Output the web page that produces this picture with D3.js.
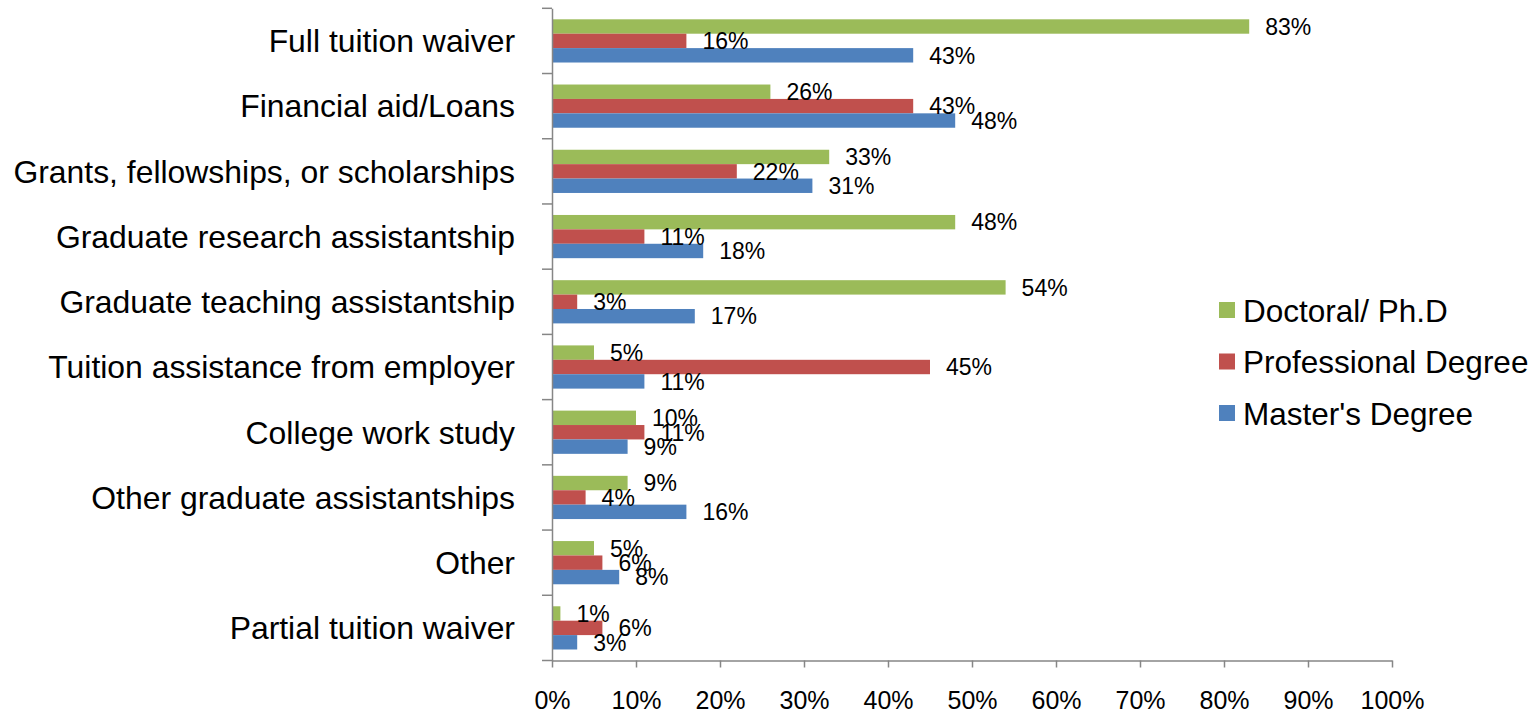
<!DOCTYPE html>
<html>
<head>
<meta charset="utf-8">
<script src="https://cdn.jsdelivr.net/npm/d3@7"></script>
<style>
  html, body { margin: 0; padding: 0; background: #ffffff; }
  svg { display: block; font-family: Arial, "Liberation Sans", sans-serif; }
</style>
</head>
<body>
<svg id="chart" width="1537" height="713"></svg>
<script>
// Funding sources, listed top to bottom
const categories = [
  "Full tuition waiver",
  "Financial aid/Loans",
  "Grants, fellowships, or scholarships",
  "Graduate research assistantship",
  "Graduate teaching assistantship",
  "Tuition assistance from employer",
  "College work study",
  "Other graduate assistantships",
  "Other",
  "Partial tuition waiver"
];

const seriesNames = ["Doctoral/ Ph.D", "Professional Degree", "Master's Degree"];

// Percent of students in each degree type using the source
const doctoral     = [83, 26, 33, 48, 54, 5, 10, 9, 5, 1];
const professional = [16, 43, 22, 11, 3, 45, 11, 4, 6, 6];
const masters      = [43, 48, 31, 18, 17, 11, 9, 16, 8, 3];

const seriesColors = ["#9BBB59", "#C0504D", "#4F81BD"];

const xTicks = [0, 10, 20, 30, 40, 50, 60, 70, 80, 90, 100];

const seriesValues = [doctoral, professional, masters];

const svg = d3.select("#chart");

const plotLeft = 552, plotRight = 1392, plotTop = 8.3, plotBottom = 660.5;
const axisColor = "#868686";

const x = d3.scaleLinear().domain([0, 100]).range([plotLeft, plotRight]);
const y = d3.scaleBand().domain(categories).range([plotTop, plotBottom]).padding(0);
const ySub = d3.scaleBand().domain(seriesNames)
  .range([0, y.bandwidth()]).paddingInner(0).paddingOuter(0.764);

// Bars and value labels
const groups = svg.append("g").selectAll("g")
  .data(categories)
  .join("g")
  .attr("transform", d => `translate(0,${y(d)})`);

seriesNames.forEach((name, si) => {
  const vals = seriesValues[si];
  groups.append("rect")
    .attr("x", x(0))
    .attr("y", ySub(name))
    .attr("width", (d, i) => x(vals[i]) - x(0))
    .attr("height", ySub.bandwidth())
    .attr("fill", seriesColors[si]);
});

seriesNames.forEach((name, si) => {
  const vals = seriesValues[si];
  groups.append("text")
    .attr("x", (d, i) => x(vals[i]) + 16)
    .attr("y", ySub(name) + ySub.bandwidth() / 2 + 8.3)
    .attr("font-size", "23px")
    .attr("fill", "#000")
    .text((d, i) => vals[i] + "%");
});

// Category axis
const yAxis = svg.append("g")
  .attr("transform", `translate(${plotLeft},0)`)
  .call(d3.axisLeft(y).tickSize(0).tickFormat(""));
yAxis.select(".domain").attr("stroke", axisColor).attr("stroke-width", 1.5);
svg.append("g").selectAll("line")
  .data(d3.range(categories.length + 1))
  .join("line")
  .attr("x1", plotLeft - 10).attr("x2", plotLeft)
  .attr("y1", i => plotTop + i * y.step())
  .attr("y2", i => plotTop + i * y.step())
  .attr("stroke", axisColor).attr("stroke-width", 1.5);

svg.append("g").selectAll("text")
  .data(categories)
  .join("text")
  .attr("x", 515)
  .attr("y", d => y(d) + y.bandwidth() / 2 + 11.3)
  .attr("text-anchor", "end")
  .attr("font-size", "31.9px")
  .attr("fill", "#000")
  .text(d => d);

// Value axis
const xAxis = svg.append("g")
  .attr("transform", `translate(0,${plotBottom})`)
  .call(d3.axisBottom(x).tickValues(xTicks).tickSize(7).tickSizeOuter(0)
    .tickFormat(d => d + "%"));
xAxis.select(".domain").attr("stroke", axisColor).attr("stroke-width", 1.5);
xAxis.selectAll(".tick line").attr("stroke", axisColor).attr("stroke-width", 1.5);
xAxis.selectAll(".tick text")
  .attr("y", 48.5).attr("dy", 0)
  .attr("font-size", "25px")
  .attr("font-family", "Arial, 'Liberation Sans', sans-serif")
  .attr("fill", "#000");

// Legend
const legend = svg.append("g").selectAll("g")
  .data(seriesNames)
  .join("g")
  .attr("transform", (d, i) => `translate(1219,${310 + i * 51.5})`);
legend.append("rect")
  .attr("x", 0).attr("y", -8)
  .attr("width", 16).attr("height", 16)
  .attr("fill", (d, i) => seriesColors[i]);
legend.append("text")
  .attr("x", 24).attr("y", 11.5)
  .attr("font-size", "31.5px")
  .attr("fill", "#000")
  .text(d => d);
</script>
</body>
</html>
